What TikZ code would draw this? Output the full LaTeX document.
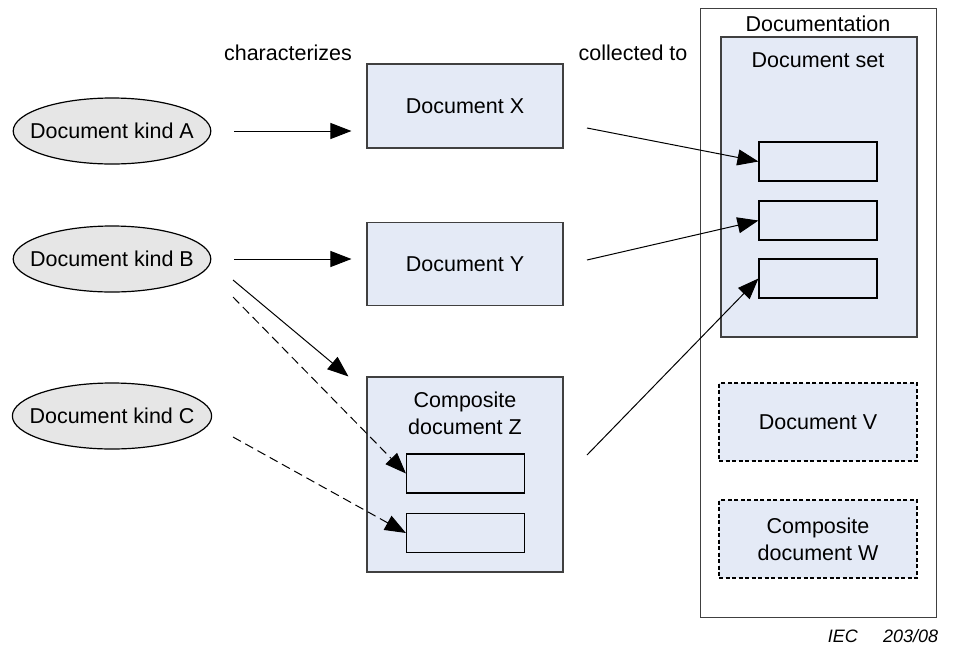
\documentclass[tikz,border=0pt]{standalone}
\usepackage{fontspec}
\setmainfont{Liberation Sans}
\usepackage{xcolor}
\usetikzlibrary{arrows.meta, shapes.geometric}

\definecolor{docblue}{RGB}{228,234,246}
\definecolor{kindgray}{RGB}{230,230,230}
\definecolor{boxline}{RGB}{64,64,64}

\tikzset{
	kind/.style={ellipse, draw=black, fill=kindgray, line width=1.2pt,
		minimum width=197pt, minimum height=66pt, inner xsep=-12pt, inner ysep=0pt},
	docbox/.style={rectangle, draw=boxline, fill=docblue, line width=1.1pt,
		inner sep=0pt, align=center},
	partbox/.style={docbox, draw=black, minimum width=118pt, minimum height=39pt},
	optbox/.style={docbox, draw=black, dash pattern=on 4pt off 2.5pt,
		minimum width=198pt, minimum height=78pt},
	arr/.style={-{Triangle[length=21pt, width=16pt]}, line width=1pt},
	dasharr/.style={arr, dash pattern=on 9pt off 5pt}
}

\begin{document}
\begin{tikzpicture}[x=1pt, y=-1pt, font=\fontsize{21.5}{27}\selectfont]
				\useasboundingbox (0,0) rectangle (962,646);
				% document kinds
				\node[kind] at (112,131) (ka) {Document kind A};
				\node[kind] at (112,259) (kb) {Document kind B};
				\node[kind] at (112,416) (kc) {Document kind C};
				% documents
				\node[docbox, minimum width=196pt, minimum height=84pt] at (465,106) (x) {Document X};
				\node[docbox, minimum width=196pt, minimum height=83pt] at (465,264) (y) {Document Y};
				\node[docbox, minimum width=196pt, minimum height=195pt] at (465,474.5) (z) {};
				\node[align=center] at (465,413) (zlabel) {Composite\\document Z};
				\node[partbox] at (465.5,473.5) (z1) {};
				\node[partbox] at (465.5,533) (z2) {};
				% documentation
				\node[rectangle, draw=boxline, fill=white, line width=1pt,
					minimum width=236pt, minimum height=609pt] at (818,312.5) (doc) {};
				\node at (818,24) (doclabel) {Documentation};
				\node[docbox, minimum width=196pt, minimum height=300pt] at (819,187) (set) {};
				\node at (818,60) (setlabel) {Document set};
				\node[partbox] at (818,161.5) (s1) {};
				\node[partbox] at (818,220.5) (s2) {};
				\node[partbox] at (818,278.5) (s3) {};
				\node[optbox] at (818,422) (v) {Document V};
				\node[optbox] at (818,539) (w) {Composite\\document W};
				% labels
				\node at (288,53) (charlabel) {characterizes};
				\node at (633,53) (colllabel) {collected to};
				\node[font=\fontsize{18}{20}\selectfont\itshape] at (883,636) (iec) {IEC\hspace{1.4em}203/08};
				% free ends
				\coordinate (bz) at (233,280);
				\coordinate (bd) at (233,297);
				\coordinate (cd) at (233,437);
				\coordinate (xo) at (587,128);
				\coordinate (yo) at (587,260);
				\coordinate (zo) at (587,455);
				% connectors
				\draw[arr, shorten <=23pt, shorten >=15pt] (ka.east) -- (ka.east -| x.west);
				\draw[arr, shorten <=23pt, shorten >=15pt] (kb.east) -- (kb.east -| y.west);
				\draw[arr] (bz) -- ([xshift=-18pt]z.north west);
				\draw[dasharr] (bd) -- (z1.west);
				\draw[dasharr] (cd) -- (z2.west);
				\draw[arr] (xo) -- (s1.west);
				\draw[arr] (yo) -- (s2.west);
				\draw[arr] (zo) -- (s3.west);
			\end{tikzpicture}
\end{document}
